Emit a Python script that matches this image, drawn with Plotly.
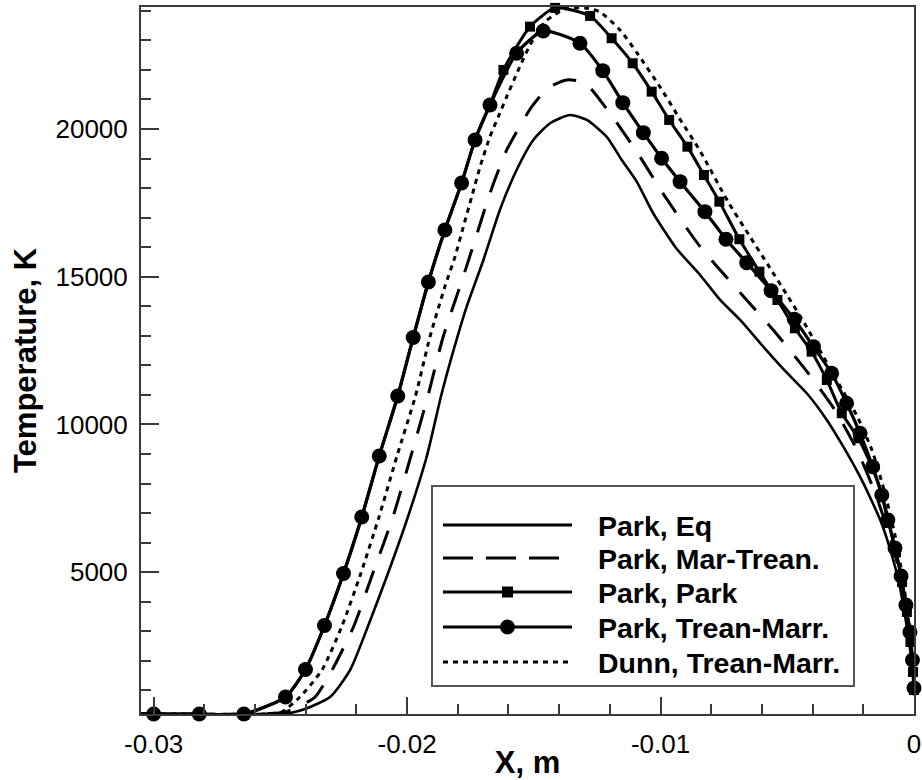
import plotly.graph_objects as go

# ---- Temperature profiles along the stagnation line (X in m, T in K) ----

# Park, Eq
eq_x = [-0.0305, -0.02541, -0.02462, -0.02403, -0.02304, -0.02225, -0.02154, -0.02075,
        -0.01997, -0.01922, -0.01866, -0.01824, -0.01765, -0.01699, -0.01634, -0.01568,
        -0.01502, -0.01436, -0.01357, -0.01291, -0.01213, -0.01153, -0.01094, -0.01029,
        -0.00939, -0.00844, -0.00765, -0.00686, -0.00595, -0.00516, -0.00423, -0.00344,
        -0.00279, -0.00213, -0.00174, -0.00130, -0.00091, -0.00059, -0.00036, -0.00016,
        -0.00004, 0.0]
eq_T = [200, 200, 234, 369, 775, 1689, 3179, 4973,
        6868, 8933, 10964, 12295, 13987, 15568, 17260, 18614,
        19630, 20195, 20476, 20307, 19742, 18953, 18219, 17149,
        15974, 15060, 14214, 13537, 12633, 11878, 11056, 10152,
        9248, 8233, 7545, 6699, 5684, 4634, 3551, 2434,
        1520, 1012]

# Park, Mar-Trean.
mt_x = [-0.0305, -0.02573, -0.02482, -0.02423, -0.02363, -0.02296, -0.02210, -0.02135,
        -0.02056, -0.01985, -0.01918, -0.01858, -0.01785, -0.01732, -0.01673, -0.01607,
        -0.01508, -0.01444, -0.01370, -0.01298, -0.01200, -0.01094, -0.00982, -0.00844,
        -0.00702, -0.00552, -0.00418, -0.00312, -0.00225, -0.00158, -0.00103, -0.00059,
        -0.00028, -0.00008, 0.0]
mt_T = [200, 200, 268, 471, 775, 1689, 3179, 4973,
        6868, 8933, 10964, 12961, 14834, 16245, 17826, 19291,
        20757, 21390, 21661, 21559, 20534, 19234, 17711, 16018,
        14620, 13165, 11743, 10490, 9136, 7782, 6428, 5074,
        3720, 2366, 1012]

# Park, Trean-Marr. (symbols on every point after the first)
tm_x = [-0.0305, -0.0300, -0.0282, -0.02644, -0.02480, -0.02401, -0.02326, -0.02251,
        -0.02179, -0.02110, -0.02037, -0.01976, -0.01916, -0.01851, -0.01785, -0.01732,
        -0.01673, -0.01568, -0.01463, -0.01318, -0.01228, -0.01149, -0.01068, -0.00996,
        -0.00923, -0.00825, -0.00742, -0.00660, -0.00564, -0.00472, -0.00397, -0.00325,
        -0.00266, -0.00213, -0.00163, -0.00127, -0.00103, -0.00075, -0.00051, -0.00032,
        -0.00016, -0.00006, 0.0]
tm_T = [200, 200, 200, 200, 775, 1706, 3196, 4956,
        6868, 8933, 10964, 12945, 14823, 16583, 18174, 19630,
        20815, 22565, 23320, 22903, 21976, 20893, 19877, 19011,
        18219, 17203, 16269, 15477, 14529, 13560, 12633, 11733,
        10717, 9702, 8571, 7613, 6767, 5819, 4871, 3890,
        2976, 2028, 1080]

# Park, Park: rising branch (no symbols) followed by the symbol points
pp_rise_x = [-0.0305, -0.0300, -0.0282, -0.02644, -0.02480, -0.02401, -0.02326, -0.02251,
             -0.02179, -0.02110, -0.02037, -0.01976, -0.01916, -0.01851, -0.01785, -0.01732,
             -0.01673]
pp_rise_T = [200, 200, 200, 200, 775, 1706, 3196, 4956,
             6868, 8933, 10964, 12945, 14823, 16583, 18174, 19630,
             20815]
pp_sym_x = [-0.01620, -0.01515, -0.01416, -0.01278, -0.01193, -0.01110, -0.01035, -0.00966,
            -0.00894, -0.00829, -0.00768, -0.00689, -0.00610, -0.00539, -0.00470, -0.00404,
            -0.00344, -0.00285, -0.00220, -0.00167, -0.00126, -0.00099, -0.00071, -0.00047,
            -0.00028, -0.00014, -0.00004, 0.0]
pp_sym_T = [22000, 23465, 24100, 23827, 23072, 22226, 21265, 20307,
            19403, 18445, 17542, 16269, 15172, 14214, 13256, 12464,
            11506, 10379, 9533, 8571, 7613, 6665, 5684, 4668,
            3653, 2637, 1622, 1012]

# Dunn, Trean-Marr.
dn_x = [-0.0305, -0.02600, -0.02502, -0.02423, -0.02336, -0.02257, -0.02182, -0.02111,
        -0.02040, -0.01967, -0.01910, -0.01851, -0.01811, -0.01778, -0.01745, -0.01712,
        -0.01673, -0.01640, -0.01607, -0.01561, -0.01515, -0.01456, -0.01377, -0.01298,
        -0.01239, -0.01160, -0.01093, -0.01002, -0.00923, -0.00844, -0.00734, -0.00647,
        -0.00576, -0.00501, -0.00426, -0.00359, -0.00292, -0.00225, -0.00166, -0.00118,
        -0.00075, -0.00043, -0.00020, -0.00006, 0.0]
dn_T = [200, 200, 234, 775, 1689, 3179, 4973, 6868,
        8933, 10964, 12961, 14664, 15680, 16695, 17711, 18726,
        19742, 20419, 21096, 22000, 22846, 23624, 24064, 24098,
        23963, 23353, 22575, 21424, 20326, 19258, 17541, 16355,
        15399, 14381, 13332, 12318, 11303, 10287, 9136, 7782,
        6259, 4736, 3213, 2028, 1012]

# Axis ticks
x_tickvals = [-0.03, -0.02, -0.01, 0.0]
x_ticktext = ["-0.03", "-0.02", "-0.01", "0"]
y_tickvals = [5000, 10000, 15000, 20000]
y_ticktext = ["5000", "10000", "15000", "20000"]

legend_names = ["Park, Eq", "Park, Mar-Trean.", "Park, Park",
                "Park, Trean-Marr.", "Dunn, Trean-Marr."]

BLACK = "#000000"
AXIS = "#3a3a3a"
FONT = "Liberation Sans, Arial, sans-serif"
DASH = "24px,18px"
DOT = "5px,5px"

fig = go.Figure()

fig.add_trace(go.Scatter(x=eq_x, y=eq_T, mode="lines", name=legend_names[0], showlegend=False,
                         line=dict(color=BLACK, width=2.6, shape="spline", smoothing=0.6)))
fig.add_trace(go.Scatter(x=mt_x, y=mt_T, mode="lines", name=legend_names[1], showlegend=False,
                         line=dict(color=BLACK, width=3, dash=DASH,
                                   shape="spline", smoothing=0.6)))
fig.add_trace(go.Scatter(x=pp_rise_x + pp_sym_x, y=pp_rise_T + pp_sym_T, mode="lines",
                         name=legend_names[2], showlegend=False,
                         line=dict(color=BLACK, width=3, shape="spline", smoothing=0.6)))
fig.add_trace(go.Scatter(x=pp_sym_x, y=pp_sym_T, mode="markers", name=legend_names[2],
                         showlegend=False, cliponaxis=False,
                         marker=dict(symbol="square", size=10, color=BLACK)))
fig.add_trace(go.Scatter(x=dn_x, y=dn_T, mode="lines", name=legend_names[4], showlegend=False,
                         line=dict(color=BLACK, width=3, dash=DOT,
                                   shape="spline", smoothing=0.6)))
fig.add_trace(go.Scatter(x=tm_x, y=tm_T, mode="lines", name=legend_names[3], showlegend=False,
                         line=dict(color=BLACK, width=3.2, shape="spline", smoothing=0.6)))
fig.add_trace(go.Scatter(x=tm_x[1:], y=tm_T[1:], mode="markers", name=legend_names[3],
                         showlegend=False, cliponaxis=False,
                         marker=dict(symbol="circle", size=15, color=BLACK)))

# ---- legend box drawn in plot-area (paper) coordinates ----
PLOT_L, PLOT_R, PLOT_T, PLOT_B = 141, 914, 7, 714


def px_x(p):
    return (p - PLOT_L) / (PLOT_R - PLOT_L)


def px_y(p):
    return (PLOT_B - p) / (PLOT_B - PLOT_T)


shapes = [dict(type="rect", xref="paper", yref="paper",
               x0=px_x(432), x1=px_x(854), y0=px_y(686), y1=px_y(486),
               line=dict(color="#555555", width=2), fillcolor="white", layer="above")]
annotations = []
row_y = [525, 558, 592, 627, 662]
sample_dash = ["solid", "30px,13px", "solid", "solid", DOT]
sample_symbol = [None, None, "square", "circle", None]
for name, yy, dash, sym in zip(legend_names, row_y, sample_dash, sample_symbol):
    shapes.append(dict(type="line", xref="paper", yref="paper",
                       x0=px_x(443), x1=px_x(572), y0=px_y(yy), y1=px_y(yy),
                       line=dict(color=BLACK, width=3, dash=dash), layer="above"))
    if sym is not None:
        r = 5.5 if sym == "square" else 7.5
        shapes.append(dict(type="rect" if sym == "square" else "circle",
                           xref="paper", yref="paper",
                           xsizemode="pixel", ysizemode="pixel",
                           xanchor=px_x(507.5), yanchor=px_y(yy),
                           x0=-r, x1=r, y0=-r, y1=r,
                           fillcolor=BLACK, line=dict(color=BLACK, width=0), layer="above"))
    annotations.append(dict(text=name, xref="paper", yref="paper",
                            x=px_x(596), y=px_y(yy + 1), xanchor="left", yanchor="middle",
                            showarrow=False,
                            font=dict(family=FONT, size=28.5, color=BLACK, weight="bold")))

axis_common = dict(
    showline=True, linecolor=AXIS, linewidth=2, mirror=True,
    showgrid=False, zeroline=False,
    ticks="inside", tickcolor=AXIS, tickwidth=2,
    tickfont=dict(family=FONT, size=26, color=BLACK),
)

fig.update_layout(
    width=922, height=780,
    margin=dict(l=PLOT_L, r=922 - PLOT_R, t=PLOT_T, b=780 - PLOT_B, autoexpand=False),
    paper_bgcolor="white", plot_bgcolor="white",
    font=dict(family=FONT, color=BLACK),
    showlegend=False,
    xaxis=dict(
        range=[-0.0305, 0.0], tickmode="array", tickvals=x_tickvals, ticktext=x_ticktext,
        ticklen=17, ticklabelstandoff=6,
        minor=dict(tickmode="linear", tick0=0, dtick=0.002, ticks="inside",
                   ticklen=10, tickwidth=2, tickcolor=AXIS),
        title=dict(text="X, m", standoff=0,
                   font=dict(family=FONT, size=31, color=BLACK, weight="bold")),
        **axis_common,
    ),
    yaxis=dict(
        range=[200, 24130], tickmode="array", tickvals=y_tickvals, ticktext=y_ticktext,
        ticklen=18, ticklabelstandoff=6,
        minor=dict(tickmode="linear", tick0=0, dtick=1000, ticks="inside",
                   ticklen=10, tickwidth=2, tickcolor=AXIS),
        title=dict(text="Temperature, K", standoff=10,
                   font=dict(family=FONT, size=31, color=BLACK, weight="bold")),
        **axis_common,
    ),
    shapes=shapes,
    annotations=annotations,
)

fig.write_html("out.html")
